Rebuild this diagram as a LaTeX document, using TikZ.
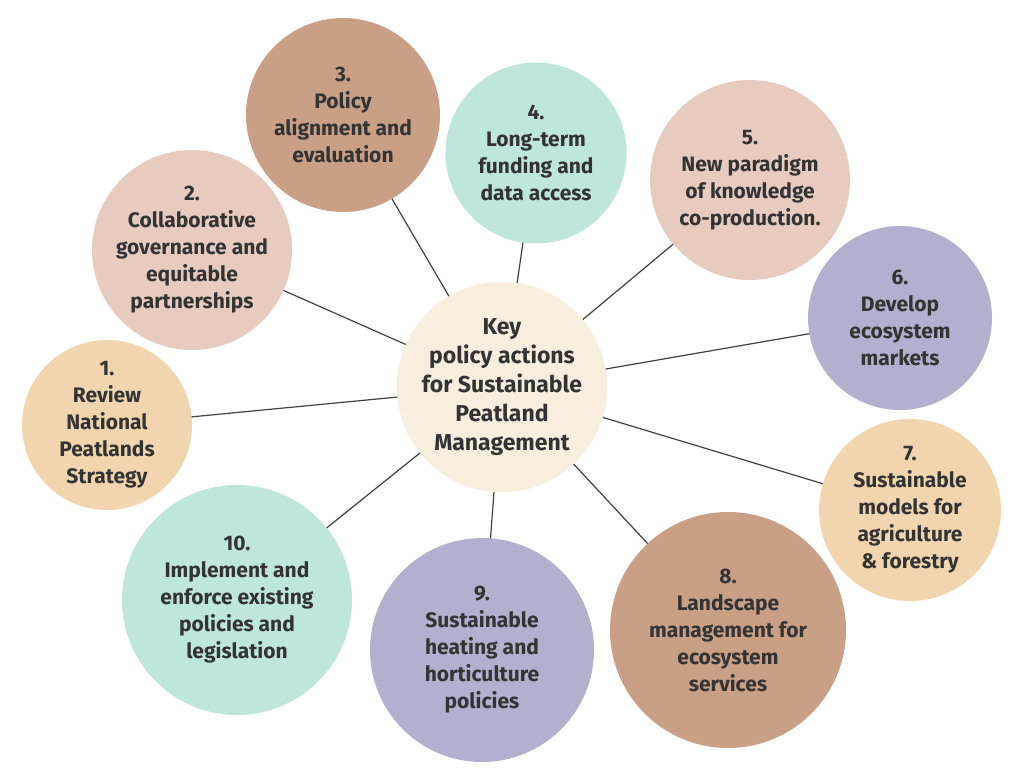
\documentclass[tikz,border=0pt]{standalone}
\usepackage{fontspec}
\setmainfont{Fira Sans}
\begin{document}
\begin{tikzpicture}[x=1pt,y=-1pt,
  bub/.style={circle,inner sep=0pt,align=center,font=\bfseries\fontsize{21}{27}\selectfont,text=black!80},
  ln/.style={draw=black!75,line width=1.2pt}]
\useasboundingbox (0,0) rectangle (1024,768);
\definecolor{tan}{HTML}{F0D5AE}\definecolor{pink}{HTML}{E8CBBF}
\definecolor{brn}{HTML}{C9A086}\definecolor{mint}{HTML}{BEE6DC}
\definecolor{lav}{HTML}{B1B0CF}\definecolor{cream}{HTML}{F7EEDD}
\coordinate (c0) at (502,387);
\coordinate (c1) at (107,425);\coordinate (c2) at (192,250);\coordinate (c3) at (343,115);
\coordinate (c4) at (536,153);\coordinate (c5) at (750,180);\coordinate (c6) at (900,318);
\coordinate (c7) at (910,510);\coordinate (c8) at (728,630);\coordinate (c9) at (482,650);
\coordinate (c10) at (237,600);
\foreach \i in {1,...,10} \draw[ln] (c0) -- (c\i);
\node[bub,fill=cream,minimum size=204pt,font=\bfseries\fontsize{23}{29}\selectfont] (k) at (c0) {Key\\policy actions\\for Sustainable\\Peatland\\Management};
\node[bub,fill=tan,minimum size=170pt] (n1) at (c1) {1.\\Review\\National\\Peatlands\\Strategy};
\node[bub,fill=pink,minimum size=200pt] (n2) at (c2) {2.\\Collaborative\\governance and\\equitable\\partnerships};
\node[bub,fill=brn,minimum size=194pt] (n3) at (c3) {3.\\Policy\\alignment and\\evaluation};
\node[bub,fill=mint,minimum size=181pt] (n4) at (c4) {4.\\Long-term\\funding and\\data access};
\node[bub,fill=pink,minimum size=200pt] (n5) at (c5) {5.\\New paradigm\\of knowledge\\co-production.};
\node[bub,fill=lav,minimum size=184pt] (n6) at (c6) {6.\\Develop\\ecosystem\\markets};
\node[bub,fill=tan,minimum size=182pt] (n7) at (c7) {7.\\Sustainable\\models for\\agriculture\\\& forestry};
\node[bub,fill=brn,minimum size=236pt] (n8) at (c8) {8.\\Landscape\\management for\\ecosystem\\services};
\node[bub,fill=lav,minimum size=224pt] (n9) at (c9) {9.\\Sustainable\\heating and\\horticulture\\policies};
\node[bub,fill=mint,minimum size=230pt] (n10) at (c10) {10.\\Implement and\\enforce existing\\policies and\\legislation};
\end{tikzpicture}
\end{document}
